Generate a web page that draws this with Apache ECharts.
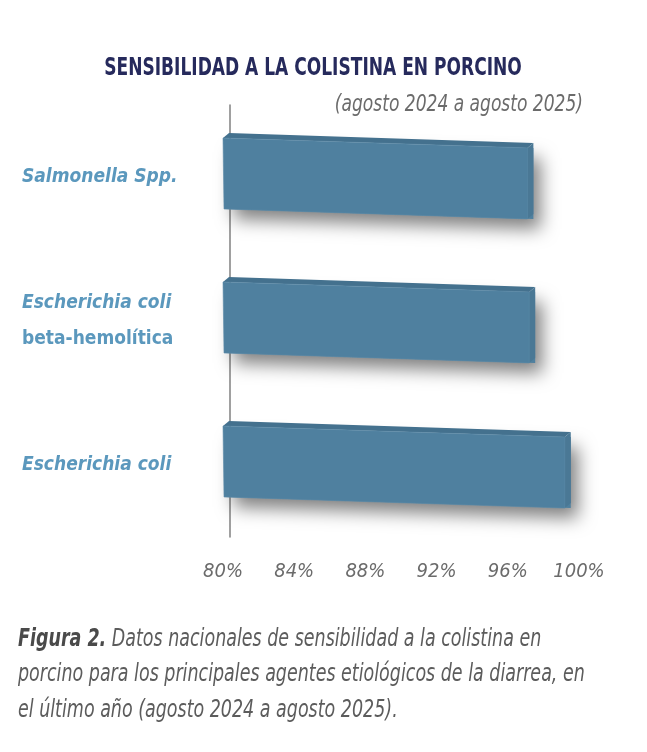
<!DOCTYPE html>
<html>
<head>
<meta charset="utf-8">
<script src="https://cdn.jsdelivr.net/npm/echarts@6/dist/echarts.min.js"></script>
<style>
  html, body { margin: 0; padding: 0; background: #fff; }
  #chart { width: 647px; height: 752px; }
</style>
</head>
<body>
<div id="chart"></div>
<script>
// datos
const categories = ['Salmonella Spp.', 'Escherichia coli|beta-hemolítica', 'Escherichia coli']
const sensitivity = [97.1, 97.2, 99.2]
const xTicks = [80, 84, 88, 92, 96, 100]

const FONT = '"DejaVu Sans Condensed", "Liberation Sans Narrow", sans-serif'
const X_MIN = 80
const X_MAX = 100
const SLANT = 0.0325 // caída de la perspectiva por px

const chart = echarts.init(document.getElementById('chart'))

function renderBar(params, api) {
  const val = api.value(0)
  const cat = api.value(1)
  const start = api.coord([X_MIN, cat])
  const end = api.coord([val, cat])
  const x0 = start[0]
  const x1 = end[0]
  const yc = start[1]
  const top0 = yc - 39
  const bot0 = yc + 32
  const drop = (x1 - x0) * SLANT
  const top1 = top0 + drop
  const bot1 = bot0 + drop
  const dx = 6
  const dy = -5

  return {
    type: 'group',
    children: [
      {
        // sombra difusa
        type: 'polygon',
        shape: { points: [[x0 + 4, top0 + 4], [x1 + dx, top1], [x1 + dx, bot1], [x0 + 4, bot0]] },
        style: {
          fill: '#4f809f',
          shadowBlur: 18,
          shadowOffsetX: 7,
          shadowOffsetY: 10,
          shadowColor: 'rgba(0,0,0,0.5)'
        }
      },
      {
        type: 'polygon',
        shape: { points: [[x0, top0], [x0 + dx, top0 + dy], [x1 + dx, top1 + dy], [x1, top1]] },
        style: { fill: '#44718e' }
      },
      {
        type: 'polygon',
        shape: { points: [[x1, top1], [x1 + dx, top1 + dy], [x1 + dx, bot1 + dy], [x1, bot1]] },
        style: { fill: '#4a7895' }
      },
      {
        type: 'polygon',
        shape: { points: [[x0, top0], [x1, top1], [x1, bot1], [x0 + 1, bot0]] },
        style: { fill: '#4f809f', stroke: '#5a8aa8', lineWidth: 0.6 }
      }
    ]
  }
}

// texto estrecho: fuente más grande comprimida en horizontal
function narrowText(text, x, y, size, scaleX, extra) {
  return {
    type: 'text',
    x: x,
    y: y,
    scaleX: scaleX,
    style: Object.assign({
      text: text,
      fill: '#5c5c5c',
      font: 'italic ' + size + 'px ' + FONT,
      verticalAlign: 'middle'
    }, extra || {})
  }
}

chart.setOption({
  animation: false,
  grid: { left: 223, right: 68, top: 105, bottom: 215 },
  xAxis: {
    type: 'value',
    min: X_MIN,
    max: X_MAX,
    interval: 4,
    axisLine: { show: false },
    axisTick: { show: false },
    splitLine: { show: false },
    axisLabel: {
      margin: 25,
      color: '#6b6b6b',
      fontFamily: FONT,
      fontStyle: 'italic',
      fontSize: 20,
      formatter: v => (xTicks.indexOf(v) >= 0 ? v + '%' : '')
    }
  },
  yAxis: {
    type: 'category',
    inverse: true,
    data: categories,
    offset: -7,
    axisLine: { show: true, lineStyle: { color: '#808080', width: 1.5 } },
    axisTick: { show: false },
    axisLabel: {
      align: 'left',
      margin: 208,
      formatter: v => {
        const parts = v.split('|')
        if (parts.length > 1) return '{i|' + parts[0] + '}\n{n|' + parts[1] + '}'
        return '{i|' + v + '}'
      },
      rich: {
        i: { color: '#5b98bd', fontFamily: FONT, fontStyle: 'italic', fontWeight: 'bold', fontSize: 19, lineHeight: 36 },
        n: { color: '#5b98bd', fontFamily: FONT, fontWeight: 'bold', fontSize: 19, lineHeight: 36 }
      }
    }
  },
  series: [
    {
      type: 'custom',
      renderItem: renderBar,
      encode: { x: 0, y: 1 },
      data: sensitivity.map((v, i) => [v, i]),
      z: 3
    }
  ],
  graphic: [
    narrowText('SENSIBILIDAD A LA COLISTINA EN PORCINO', 313, 69, 24, 0.79, {
      fill: '#262a5c',
      font: 'bold 24px ' + FONT,
      align: 'center'
    }),
    narrowText('(agosto 2024 a agosto 2025)', 583, 105, 23, 0.826, {
      fill: '#6b6b6b',
      align: 'right'
    }),
    narrowText('{b|Figura 2.} Datos nacionales de sensibilidad a la colistina en', 18, 640, 24, 0.81, {
      rich: { b: { fill: '#4a4a4a', font: 'italic bold 24px ' + FONT } }
    }),
    narrowText('porcino para los principales agentes etiológicos de la diarrea, en', 18, 675, 24, 0.81),
    narrowText('el último año (agosto 2024 a agosto 2025).', 18, 711, 24, 0.81)
  ]
})
</script>
</body>
</html>
